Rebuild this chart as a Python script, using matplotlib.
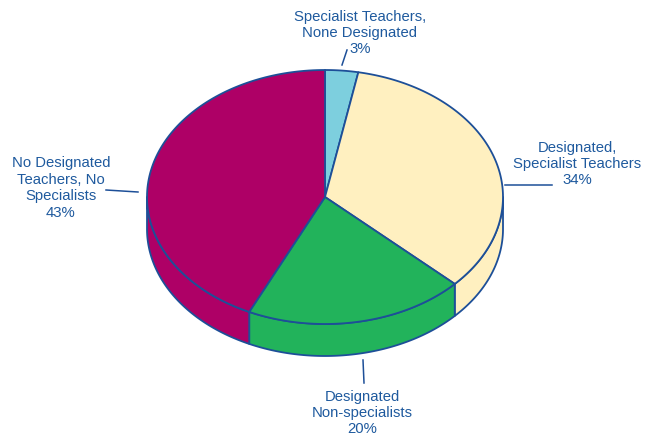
import numpy as np
import matplotlib
matplotlib.use("Agg")
import matplotlib.pyplot as plt
from matplotlib.patches import Polygon

# Share of schools by staffing arrangement (clockwise from 12 o'clock)
categories = [
    "Specialist Teachers,\nNone Designated",
    "Designated,\nSpecialist Teachers",
    "Designated\nNon-specialists",
    "No Designated\nTeachers, No\nSpecialists",
]
values = [3, 34, 20, 43]
colors = ["#7dcfde", "#fff0c0", "#22b35b", "#ae0066"]

EDGE = "#1d4f98"
TEXT = "#1f5a9e"

W, H = 645, 438
fig = plt.figure(figsize=(W / 100, H / 100), dpi=100)
ax = fig.add_axes([0, 0, 1, 1])
ax.set_xlim(0, W)
ax.set_ylim(H, 0)
ax.axis("off")

# Pie geometry (pixel space, y grows downward)
cx, cy = 325, 197
rx, ry = 178, 127
depth = 32


def pt(theta_deg, dy=0.0):
    t = np.radians(theta_deg)
    return cx + rx * np.cos(t), cy - ry * np.sin(t) + dy


total = float(sum(values))
bounds = [90.0]
for v in values:
    bounds.append(bounds[-1] - 360.0 * v / total)

# Side walls: only the front half (angles between 180 and 360) is visible
for i, v in enumerate(values):
    lo, hi = bounds[i + 1], bounds[i]
    segs = []
    for shift in (0, -360, 360):
        s_lo, s_hi = max(lo + shift, -180), min(hi + shift, 0)
        if s_hi > s_lo:
            segs.append((s_lo, s_hi))
    for s_lo, s_hi in segs:
        th = np.linspace(s_hi, s_lo, 80)
        top = [pt(t) for t in th]
        bot = [pt(t, depth) for t in th[::-1]]
        ax.add_patch(Polygon(top + bot, closed=True, facecolor=colors[i],
                             edgecolor=EDGE, linewidth=1.3, joinstyle="round",
                             zorder=1))

# Top faces
for i, v in enumerate(values):
    a0, a1 = bounds[i], bounds[i + 1]
    th = np.linspace(a0, a1, 120)
    verts = [(cx, cy)] + [pt(t) for t in th]
    ax.add_patch(Polygon(verts, closed=True, facecolor=colors[i],
                         edgecolor=EDGE, linewidth=1.3, joinstyle="round",
                         zorder=2))

# Labels with leader lines
label_specs = [
    # (text x, text y, leader start, leader end)
    (360, 33, (342, 65), (347, 50)),
    (577, 164, (505, 185), (552, 185)),
    (362, 413, (363, 360), (364, 383)),
    (61, 188, (138, 192), (106, 190)),
]
for (tx, ty, p0, p1), name, v in zip(label_specs, categories, values):
    ax.plot([p0[0], p1[0]], [p0[1], p1[1]], color=EDGE, linewidth=1.1,
            zorder=3)
    ax.text(tx, ty, f"{name}\n{v}%", ha="center", va="center",
            fontsize=10.7, color=TEXT, family=["Liberation Sans", "DejaVu Sans"],
            linespacing=1.22, zorder=4)

fig.savefig("out.png", dpi=100, facecolor="white")
